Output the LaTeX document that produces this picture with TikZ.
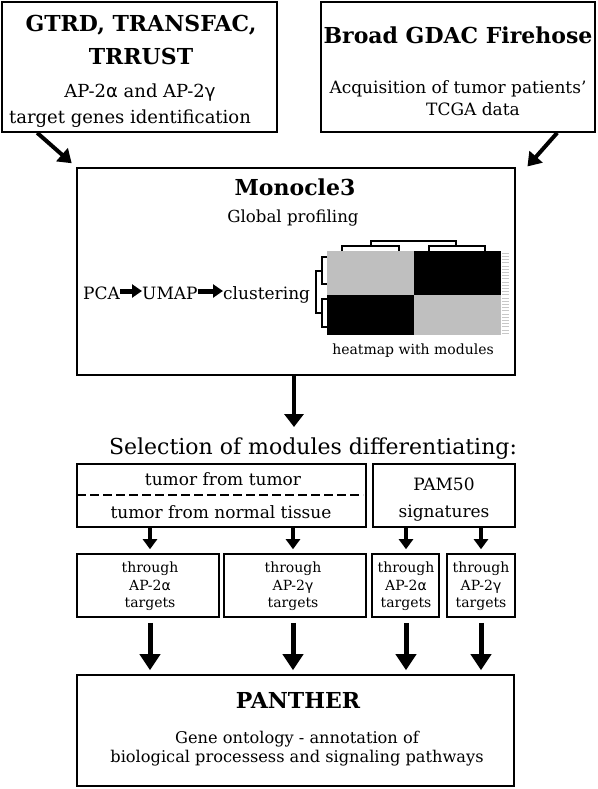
\documentclass[tikz,border=0pt]{standalone}
\usepackage{fontspec}
\setmainfont{DejaVu Serif}
\newfontfamily\grkfont{DejaVu Sans}
\usetikzlibrary{arrows.meta,calc}
\newcommand\myalpha{{\grkfont α}}
\newcommand\mygamma{{\grkfont γ}}
\definecolor{hmgray}{HTML}{BFBFBF}
\definecolor{tickgray}{HTML}{C8C8C8}
\begin{document}
\begin{tikzpicture}[x=1pt,y=-1pt,
  box/.style={draw, line width=1.6pt, inner sep=0pt},
  lbl/.style={inner sep=0pt, text height=0.72em, text depth=0.2em, align=center},
  ttl/.style={lbl, yshift=-6pt, font=\fontsize{22}{26}\selectfont\bfseries},
  bodyA/.style={lbl, yshift=-5pt, font=\fontsize{18}{21}\selectfont},
  bodyB/.style={lbl, yshift=-5pt, font=\fontsize{17}{20}\selectfont},
  bodyC/.style={lbl, yshift=-5pt, font=\fontsize{16.6}{20}\selectfont},
  bodyD/.style={lbl, yshift=-5pt, font=\fontsize{16.2}{19}\selectfont},
  small/.style={lbl, yshift=-3pt, font=\fontsize{14}{16}\selectfont},
  topar/.style={line width=4pt, -{Triangle[width=17pt,length=13pt]}},
  midar/.style={line width=4pt, -{Triangle[width=19pt,length=13pt]}},
  smar/.style={line width=4pt, -{Triangle[width=14pt,length=10pt]}},
  bigar/.style={line width=5pt, -{Triangle[width=20pt,length=16pt]}},
  pcaar/.style={line width=5pt, -{Triangle[width=13pt,length=10pt]}},
  dendro/.style={line width=1.4pt}
]
\useasboundingbox (0,0) rectangle (597,789);

% top boxes
\node[box, minimum width=275pt, minimum height=130pt] (gtrd) at (139.5,67) {};
\node[ttl] (gtrd1) at (141,23) {GTRD, TRANSFAC,};
\node[ttl] (gtrd2) at (141,56) {TRRUST};
\node[bodyA] (gtrd3) at (140,90) {AP-2\myalpha{} and AP-2\mygamma};
\node[bodyA] (gtrd4) at (130,116) {target genes identification};

\node[box, minimum width=274pt, minimum height=130pt] (fire) at (458,67) {};
\node[ttl] (fire1) at (458,35) {Broad GDAC Firehose};
\node[bodyB] (fire2) at (458,86) {Acquisition of tumor patients’};
\node[bodyB] (fire3) at (473,108) {TCGA data};

% Monocle box
\node[box, minimum width=438pt, minimum height=207pt] (mono) at (296,271.5) {};
\node[ttl] (mono1) at (295,187) {Monocle3};
\node[bodyC] (mono2) at (293,215) {Global profiling};
\node[bodyB, anchor=west] (pca) at (83,292) {PCA};
\node[bodyB, anchor=west] (umap) at (142,292) {UMAP};
\node[bodyB, anchor=west] (clus) at (223,292) {clustering};
\draw[pcaar] ($(pca.east)+(0,-6)$) -- ($(umap.west)+(0,-6)$);
\draw[pcaar] ($(umap.east)+(0,-6)$) -- ($(clus.west)+(0,-6)$);

% heatmap
\fill[hmgray] (327,251) rectangle (414,295);
\fill[black] (414,251) rectangle (501,295);
\fill[black] (327,295) rectangle (414,335);
\fill[hmgray] (414,295) rectangle (501,335);
\foreach \k in {0,...,25} {
  \draw[tickgray, line width=0.6pt] (502,{253+\k*3.2}) -- (509,{253+\k*3.2});
}
% top dendrogram
\draw[dendro] (342,251) -- (342,246) -- (399,246) -- (399,251);
\draw[dendro] (429,251) -- (429,246) -- (485,246) -- (485,251);
\draw[dendro] (371,246) -- (371,241) -- (456,241) -- (456,246);
% left dendrogram
\draw[dendro] (327,257) -- (322,257) -- (322,284) -- (327,284);
\draw[dendro] (327,299) -- (322,299) -- (322,327) -- (327,327);
\draw[dendro] (322,271) -- (316,271) -- (316,313) -- (322,313);
\node[small] (hmlbl) at (413,349) {heatmap with modules};

% selection
\node[lbl, yshift=-6pt, font=\fontsize{22}{26}\selectfont] (sel) at (313,446) {Selection of modules differentiating:};
\node[box, minimum width=289pt, minimum height=63pt] (tum) at (221.5,495.5) {};
\node[bodyB] (tum1) at (223,478) {tumor from tumor};
\node[bodyB] (tum2) at (221,511) {tumor from normal tissue};
\coordinate (dl) at (77,495);
\coordinate (dr) at (363,495);
\draw[line width=1.2pt, dash pattern=on 9pt off 4pt] (dl) -- (dr);
\node[box, minimum width=142pt, minimum height=63pt] (pam) at (444,495.5) {};
\node[bodyB] (pam1) at (444,483) {PAM50};
\node[bodyB] (pam2) at (444,510) {signatures};

% through boxes
\node[box, minimum width=142pt, minimum height=63pt] (t1) at (148,585.5) {};
\node[box, minimum width=142pt, minimum height=63pt] (t2) at (295,585.5) {};
\node[box, minimum width=67pt, minimum height=63pt] (t3) at (405.5,585.5) {};
\node[box, minimum width=68pt, minimum height=63pt] (t4) at (481,585.5) {};
\foreach \n/\x/\g in {a/150/\myalpha, b/293/\mygamma, c/406/\myalpha, d/481/\mygamma} {
  \node[small] (th\n1) at (\x,567) {through};
  \node[small] (th\n2) at (\x,585) {AP-2\g};
  \node[small] (th\n3) at (\x,602) {targets};
}

% PANTHER
\node[box, minimum width=437pt, minimum height=111pt] (pan) at (295.5,730.5) {};
\node[ttl] (pan1) at (298,700) {PANTHER};
\node[bodyD] (pan2) at (297,736) {Gene ontology - annotation of};
\node[bodyD] (pan3) at (297,755) {biological processess and signaling pathways};

% arrows
\draw[topar, shorten >=6pt] ($(gtrd.south west)!0.13!(gtrd.south east)$) -- (mono.north west);
\coordinate (firetip) at ($(mono.north east)+(11,0)$);
\draw[topar, shorten >=1pt] ($(fire.south west)!0.86!(fire.south east)$) -- (firetip);
\draw[midar] (mono.south -| 294,0) -- (294,427);
\draw[smar, shorten >=4pt] (tum.south -| t1.north) ++(2,0) -- ($(t1.north)+(2,0)$);
\draw[smar, shorten >=4pt] ($(tum.south -| t2.north)+(-2,0)$) -- ($(t2.north)+(-2,0)$);
\draw[smar, shorten >=4pt] ($(pam.south -| t3.north)+(0.5,0)$) -- ($(t3.north)+(0.5,0)$);
\draw[smar, shorten >=4pt] (pam.south -| t4.north) -- (t4.north);
\draw[bigar, shorten <=5pt, shorten >=4pt] ($(t1.south)+(2,0)$) -- ($(pan.north -| t1.south)+(2,0)$);
\draw[bigar, shorten <=5pt, shorten >=4pt] ($(t2.south)+(-2,0)$) -- ($(pan.north -| t2.south)+(-2,0)$);
\draw[bigar, shorten <=5pt, shorten >=4pt] ($(t3.south)+(0.5,0)$) -- ($(pan.north -| t3.south)+(0.5,0)$);
\draw[bigar, shorten <=5pt, shorten >=4pt] (t4.south) -- (pan.north -| t4.south);
\end{tikzpicture}
\end{document}
